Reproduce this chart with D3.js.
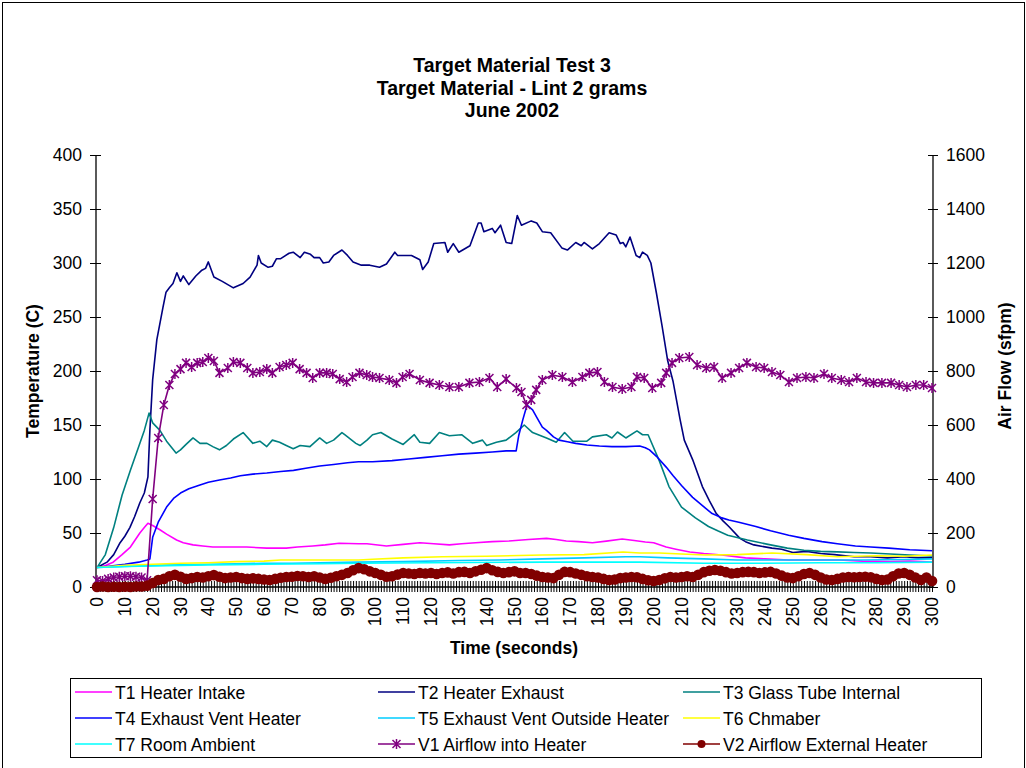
<!DOCTYPE html>
<html>
<head>
<meta charset="utf-8">
<script src="https://cdn.jsdelivr.net/npm/d3@7"></script>
<style>
  body { margin: 0; background: #fff; }
  text { font-family: "Liberation Sans", Arial, sans-serif; }
</style>
</head>
<body>
<div id="chart"></div>
<script>
// ---------------------------------------------------------
// DATA (time in seconds, temperature in C, airflow in sfpm)
// ---------------------------------------------------------

var titleLines = ["Target Material Test 3", "Target Material - Lint 2 grams", "June 2002"];
var tempTicks = [0, 50, 100, 150, 200, 250, 300, 350, 400];
var airTicks = [0, 200, 400, 600, 800, 1000, 1200, 1400, 1600];
var timeLabels = d3.range(0, 301, 10);

var t1HeaterIntake = [[0,18],[3,20],[5.8,23],[9,30],[12,37],[15.4,50],[17,55],[18.3,59],[20,57],[22.6,53],[25,49],[28.6,43.5],[31,41],[34.5,39],[38,38],[41.6,37],[48,37],[53.8,37],[61,36],[68,36],[72,37],[77.5,38],[82,39],[87,40.5],[94,40],[97,40],[104,38],[110,39.5],[116,41],[121,40],[126.6,39],[131,40],[136,41],[142,42],[148,42.6],[155,44],[161.5,45],[165,44],[168.6,42.6],[173,42],[178,41],[183,42.5],[188.7,44.4],[193,43],[197,41.7],[200,41],[204.5,37],[208,35],[213,32.4],[218,31],[224.5,29.6],[233,27],[240,26],[248.5,25],[256,25],[266.6,25],[275,24],[285,23.5],[292,24],[300,23]];

var t2HeaterExhaust = [[0,18],[3.6,23],[6,30],[8.3,41],[10,47],[11.8,55],[13.5,65],[15.4,78],[17,87],[18.3,102],[19,145],[20,192],[21.5,229],[23.7,259],[24.8,273],[26,277],[27.3,281],[28.7,291],[30,283],[31,288],[33,280],[35.5,288],[37.5,293],[39,295],[40,301],[42,287],[45,283],[49,277],[52.5,281],[55,287],[57.5,298],[58,307],[59,300],[61.5,296],[63,297],[64.5,304],[66,304],[69,309],[70.5,310],[73,305],[74.5,310],[76.7,308],[78,305],[80,305],[81.3,300],[83.3,301],[85,307],[88,312],[90,307],[92,301],[95,298],[98,298],[101.5,296],[104,299],[107,310],[108,307],[111,307],[113,307],[116,303],[117,294],[119,301],[121,318],[125,319],[126,310],[128,318],[130,310],[134,316],[137,337],[138,337],[139,329],[142,332],[143,328],[145,335],[147,319],[149,318],[151,344],[152.5,335],[156,339],[158,337],[160,329],[163,328],[167,314],[169,312],[172,319],[174,316],[175,319],[178,313],[180.5,318],[184,328],[186.5,326],[188,318],[189,319],[190,315],[191.5,324],[193.7,307],[195,305],[196,310],[197.7,307],[199,300],[201,272],[203,242],[205,210],[207,190],[209.5,155],[211,136],[214,118],[217.5,93],[220,80],[222.5,68],[225,61],[227,56],[231,45],[233,42],[236,39],[242.5,36],[246,35],[250,32],[255,33],[260,31],[265,30],[272,28],[278,28],[284,27],[290,28],[295,27],[300,27]];

var t3GlassTube = [[0,18],[3,30],[6,55],[9,85],[12,108],[15,130],[17,145],[18.7,161],[20,152],[22.6,145],[25,135],[28.4,124],[30,127],[32,132],[34.5,138],[37,133],[39.5,133],[41.6,130],[44,127],[46.5,131],[49,137],[52.5,143],[56,133],[58.5,135],[61,130],[63,136],[65.6,134],[68,131],[70.5,128],[73,131],[76.5,130],[80,138],[82.5,133],[85,136],[88,143],[89,141],[93,133],[94.5,131],[97,136],[99,141],[102,143],[106,137],[110,132],[114,141],[116,134],[119.5,133],[123,143],[126.6,140],[131,141],[135,133],[138.5,136],[140,131],[143.5,134],[147,136],[150.5,143],[153.5,150],[156.5,143],[161.5,138],[165,134],[168,143],[171,135],[176,135],[178,139],[183,141],[185,138],[187,143.5],[190,138],[194,144.5],[196,141],[198,141],[202,117],[205.5,93],[210,74],[215,64],[219.7,56],[223,52],[226.6,48],[233.7,43.5],[242,39],[248,36],[254,34],[260,33],[266,32.5],[272,32],[278,31.5],[285,30.5],[292,29.5],[300,28.7]];

var t4ExhaustVentHeater = [[0,18],[5,19.5],[10,21],[15,23],[18,25],[19,26],[20,46],[22,60],[25,74],[27.5,82],[30,87],[33,91],[37,94.5],[40,97],[44,99],[48,101],[51.5,103],[56,104.5],[61,105.5],[66,107],[70.6,108],[75,110],[80,112],[85,113.5],[90,115],[94,116],[99,116],[106,117],[112,118.5],[118,120],[124,121.5],[130,123],[136,124],[142,125],[147,126],[150.6,126],[151.5,140],[153,155],[154.5,168.5],[156.5,164],[158,157],[160,148],[161.5,145],[164,139],[166,136],[169,134.5],[172,133],[176,131.5],[180.5,130.5],[185,130],[190,130],[195,130.5],[197,129],[198.5,127],[201,121],[204.5,111],[207,103],[210,94],[214,83],[218.6,73],[221,68],[224.5,64],[227,62],[230.6,60],[236.7,56],[242,52],[248.5,48],[254,45],[260.5,42],[266,40],[272.5,38],[278,37],[284.5,36],[292,34.5],[300,33.5]];

var t5ExhaustVentOutside = [[0,18],[10,19],[20,20],[30,20.5],[40,21],[50,21.5],[60,22],[70,22],[80,22.5],[94,23],[110,23.5],[130,24.5],[145,25],[160,26],[175,27],[190,28],[195,28],[205,27],[218,26],[230,25],[245,25],[260,25],[275,25],[290,25.5],[300,26]];

var t6Chamber = [[0,18],[10,20],[20,21],[30,22],[40,22.5],[50,23.5],[60,24],[66,25],[80,25],[94,25],[99,25.7],[110,27],[124,28],[140,28.5],[160,29.6],[175,30],[189,32.4],[195,31.5],[202,31.5],[210,30.5],[218.6,29.6],[230,30],[242.5,31.5],[255,30],[266,28],[280,29],[290,28.5],[300,29.6]];

var t7RoomAmbient = [[0,18],[10,19],[20,19.5],[30,20],[40,20.5],[60,21],[80,21.5],[94,22],[120,22.5],[160,23],[190,23],[195,23],[218,22],[240,22],[260,22.5],[280,22.5],[300,23]];

var v1AirflowInto = [[0,25],[2,22],[4,30],[6,35],[8,38],[10,40],[12,40],[14,38],[16,35],[18,25],[20,326],[22,552],[24,674],[26,748],[28,789],[30,807],[32,830],[34,815],[36,830],[38,833],[40,848],[42,837],[44,793],[47,811],[49,833],[51.5,830],[54,811],[56,793],[58.5,796],[61,807],[63,793],[65.6,815],[68,822],[70.3,830],[72.8,807],[75.3,793],[77.5,774],[80,793],[82.5,793],[84.7,789],[87.2,770],[89.7,759],[91.8,778],[94.3,793],[96.9,785],[99,778],[101.5,774],[105,767],[107.6,756],[109.8,778],[112.3,789],[116,767],[119.5,756],[123,748],[126.6,741],[130,741],[133.8,756],[137.4,759],[141,774],[143.8,741],[147,770],[150.7,737],[152.5,722],[154.3,674],[156,693],[157.8,730],[160,767],[163.6,785],[167.2,778],[170.8,759],[174.4,778],[176.9,793],[179.8,796],[182.3,759],[185.2,741],[188.7,733],[192,741],[194,778],[196.6,774],[199.5,737],[202.7,756],[204.5,793],[206.6,830],[209.2,848],[212.8,852],[215.6,822],[218.9,811],[221.7,815],[224.6,774],[227.8,793],[230.7,811],[233.5,830],[236.8,815],[239.7,811],[242.5,796],[245.5,785],[248.6,759],[251.5,774],[254.7,778],[257.6,774],[261.2,789],[264,774],[267.4,767],[270.2,759],[273,774],[276.3,759],[279,756],[282,756],[285.3,756],[288.2,748],[291,741],[294.2,748],[297,748],[300,737]];

var v2AirflowExternal = [[0,0],[2,2],[4,0],[6,1],[8,0],[10,1],[12,0],[14,2],[16,2],[18,5],[20,15],[22,26],[24,30],[26,40],[28,45],[30,38],[32,30],[34,33],[36,37],[38,35],[40,40],[42,44],[44,38],[46,33],[48,35],[50,37],[52,33],[54,30],[56,32],[58,30],[60,28],[62,26],[64,30],[66,34],[68,37],[70,38],[72,41],[74,40],[76,37],[78,40],[80,35],[82,30],[84,34],[86,40],[88,45],[90,52],[92,62],[94,70],[96,66],[98,58],[100,52],[102,45],[104,38],[106,40],[108,46],[110,52],[112,50],[114,48],[116,52],[118,50],[120,52],[122,48],[124,52],[126,54],[128,50],[130,55],[132,56],[134,52],[136,58],[138,64],[140,70],[142,62],[144,56],[146,52],[148,55],[150,58],[152,52],[154,52],[156,48],[158,42],[160,37],[162,35],[164,33],[166,45],[168,56],[170,55],[172,50],[174,45],[176,40],[178,37],[180,35],[182,30],[184,26],[186,28],[188,33],[190,35],[192,37],[194,36],[196,30],[198,25],[200,22],[202,26],[204,32],[206,37],[208,35],[210,37],[212,40],[214,37],[216,45],[218,55],[220,60],[222,63],[224,60],[226,55],[228,50],[230,52],[232,55],[234,56],[236,55],[238,52],[240,54],[242,56],[244,50],[246,42],[248,35],[250,33],[252,40],[254,48],[256,52],[258,45],[260,35],[262,28],[264,26],[266,30],[268,35],[270,37],[272,36],[274,37],[276,38],[278,36],[280,30],[282,26],[284,28],[286,40],[288,50],[290,52],[292,45],[294,35],[296,26],[298,35],[300,22]];

// series settings: name, data, colour, which axis, marker
var seriesList = [
  {name: "T1 Heater Intake", data: t1HeaterIntake, color: "#FF00FF", axis: "temp"},
  {name: "T2 Heater Exhaust", data: t2HeaterExhaust, color: "#000080", axis: "temp"},
  {name: "T3 Glass Tube Internal", data: t3GlassTube, color: "#008080", axis: "temp"},
  {name: "T4 Exhaust Vent Heater", data: t4ExhaustVentHeater, color: "#0000FF", axis: "temp"},
  {name: "T5 Exhaust Vent Outside Heater", data: t5ExhaustVentOutside, color: "#00CCFF", axis: "temp"},
  {name: "T6 Chmaber", data: t6Chamber, color: "#FFFF00", axis: "temp"},
  {name: "T7 Room Ambient", data: t7RoomAmbient, color: "#00FFFF", axis: "temp"},
  {name: "V1 Airflow into Heater", data: v1AirflowInto, color: "#800080", axis: "air", marker: "star"},
  {name: "V2 Airflow External Heater", data: v2AirflowExternal, color: "#800000", axis: "air", marker: "dot"}
];

// ---------------------------------------------------------
// SET UP
// ---------------------------------------------------------

var svgWidth = 1026;
var svgHeight = 768;
var labelSize = "17.5px";

var plot = {left: 96, right: 933, top: 155, bottom: 587};

var svg = d3.select("#chart")
  .append("svg")
  .attr("width", svgWidth)
  .attr("height", svgHeight);

svg.append("rect")
  .attr("width", svgWidth)
  .attr("height", svgHeight)
  .attr("fill", "#fff");

// outer chart border
svg.append("rect")
  .attr("x", 2.5)
  .attr("y", 2.5)
  .attr("width", svgWidth - 4)
  .attr("height", svgHeight + 20)
  .attr("fill", "none")
  .attr("stroke", "#000");

var xScale = d3.scaleLinear().domain([0, 300]).range([plot.left + 1, plot.right - 1]);
var yTemp = d3.scaleLinear().domain([0, 400]).range([plot.bottom, plot.top]);
var yAir = d3.scaleLinear().domain([0, 1600]).range([plot.bottom, plot.top]);

// titles
svg.append("g").selectAll("text")
  .data(titleLines)
  .enter()
  .append("text")
  .attr("x", 512)
  .attr("y", (d, i) => 72 + i * 22.5)
  .attr("text-anchor", "middle")
  .attr("font-size", "19.5px")
  .attr("font-weight", "bold")
  .text(d => d);

// ---------------------------------------------------------
// AXES
// ---------------------------------------------------------

var leftAxis = svg.append("g")
  .attr("transform", `translate(${plot.left}, 0)`)
  .call(d3.axisLeft(yTemp).tickValues(tempTicks).tickSize(6).tickPadding(8));

var rightAxis = svg.append("g")
  .attr("transform", `translate(${plot.right}, 0)`)
  .call(d3.axisRight(yAir).tickValues(airTicks).tickFormat(d3.format("d")).tickSize(5).tickPadding(8));

var bottomAxis = svg.append("g")
  .attr("transform", `translate(0, ${plot.bottom})`)
  .call(d3.axisBottom(xScale).tickValues(d3.range(0, 301, 1)).tickSize(5).tickFormat(""));

// make ticks cross the axis lines
leftAxis.selectAll(".tick line").attr("x1", 5).attr("x2", -6);
rightAxis.selectAll(".tick line").attr("x1", -5).attr("x2", 5);
bottomAxis.selectAll(".tick line").attr("y1", -6).attr("y2", 5);

[leftAxis, rightAxis, bottomAxis].forEach(function(ax) {
  ax.select(".domain").attr("stroke", "#000").attr("stroke-width", 1.3);
  ax.selectAll(".tick line").attr("stroke", "#000");
  ax.selectAll("text")
    .attr("font-size", labelSize)
    .attr("fill", "#000")
    .style("font-family", '"Liberation Sans", Arial, sans-serif');
});
leftAxis.select(".domain").attr("d", `M0,${plot.top}V${plot.bottom}`);
rightAxis.select(".domain").attr("d", `M0,${plot.top}V${plot.bottom}`);
bottomAxis.select(".domain").attr("d", `M${plot.left},0H${plot.right}`);

// rotated time labels
svg.append("g").selectAll("text")
  .data(timeLabels)
  .enter()
  .append("text")
  .attr("transform", d => `translate(${xScale(d)}, ${plot.bottom + 10}) rotate(-90)`)
  .attr("dy", "0.35em")
  .attr("text-anchor", "end")
  .attr("font-size", labelSize)
  .text(d => d);

// axis titles
svg.append("text")
  .attr("x", 514)
  .attr("y", 654)
  .attr("text-anchor", "middle")
  .attr("font-size", labelSize)
  .attr("font-weight", "bold")
  .text("Time (seconds)");

svg.append("text")
  .attr("transform", `translate(39, 371) rotate(-90)`)
  .attr("text-anchor", "middle")
  .attr("font-size", labelSize)
  .attr("font-weight", "bold")
  .text("Temperature (C)");

svg.append("text")
  .attr("transform", `translate(1011, 366) rotate(-90)`)
  .attr("text-anchor", "middle")
  .attr("font-size", labelSize)
  .attr("font-weight", "bold")
  .text("Air Flow (sfpm)");

// ---------------------------------------------------------
// SERIES
// ---------------------------------------------------------

var starPath = "M-4,-4L4,4M-4,4L4,-4M0,-5V5";

seriesList.forEach(function(s) {
  var yScale = s.axis === "air" ? yAir : yTemp;
  var line = d3.line()
    .x(d => xScale(d[0]))
    .y(d => yScale(d[1]));

  svg.append("path")
    .datum(s.data)
    .attr("fill", "none")
    .attr("stroke", s.color)
    .attr("stroke-width", 1.6)
    .attr("stroke-linejoin", "round")
    .attr("d", line);

  if (s.marker === "star") {
    svg.append("g").selectAll("path")
      .data(s.data)
      .enter()
      .append("path")
      .attr("transform", d => `translate(${xScale(d[0])}, ${yScale(d[1])})`)
      .attr("d", starPath)
      .attr("stroke", s.color)
      .attr("stroke-width", 1.5)
      .attr("fill", "none");
  }
  if (s.marker === "dot") {
    svg.append("g").selectAll("circle")
      .data(s.data)
      .enter()
      .append("circle")
      .attr("cx", d => xScale(d[0]))
      .attr("cy", d => yScale(d[1]))
      .attr("r", 5.3)
      .attr("fill", s.color);
  }
});

// ---------------------------------------------------------
// LEGEND
// ---------------------------------------------------------

var legend = svg.append("g");

legend.append("rect")
  .attr("x", 70.5)
  .attr("y", 678.5)
  .attr("width", 911)
  .attr("height", 79)
  .attr("fill", "#fff")
  .attr("stroke", "#000");

var legendCols = [75, 378, 683];
var legendRows = [692, 718, 744];

seriesList.forEach(function(s, i) {
  var lx = legendCols[i % 3];
  var ly = legendRows[Math.floor(i / 3)];
  var item = legend.append("g").attr("transform", `translate(${lx}, ${ly})`);

  item.append("line")
    .attr("x1", 0).attr("x2", 37)
    .attr("y1", 0).attr("y2", 0)
    .attr("stroke", s.color)
    .attr("stroke-width", 1.6);

  if (s.marker === "star") {
    item.append("path")
      .attr("transform", "translate(18.5, 0)")
      .attr("d", starPath)
      .attr("stroke", s.color)
      .attr("stroke-width", 1.5);
  }
  if (s.marker === "dot") {
    item.append("circle")
      .attr("cx", 18.5)
      .attr("cy", 0)
      .attr("r", 4)
      .attr("fill", s.color);
  }

  item.append("text")
    .attr("x", 40)
    .attr("y", 6.5)
    .attr("font-size", labelSize)
    .text(s.name);
});
</script>
</body>
</html>
